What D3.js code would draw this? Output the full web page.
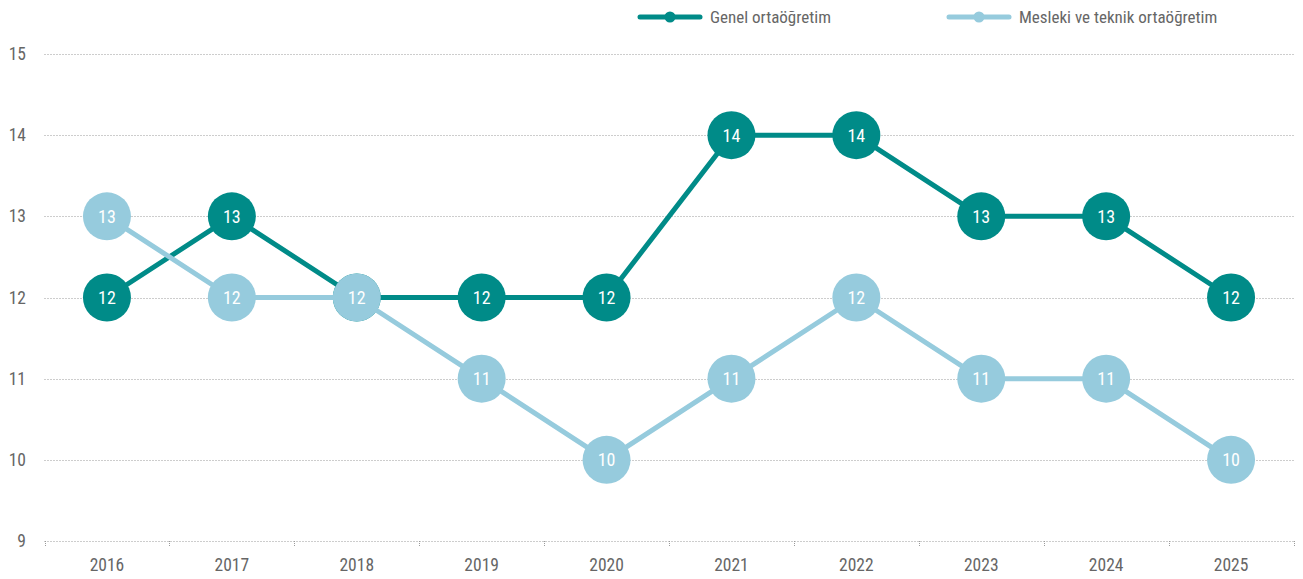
<!DOCTYPE html>
<html>
<head>
<meta charset="utf-8">
<script src="https://cdn.jsdelivr.net/npm/d3@7"></script>
<style>
  html, body { margin: 0; padding: 0; background: #fff; }
  svg { display: block; }
  text { font-family: "Liberation Sans Narrow", "Arial Narrow", "Roboto Condensed", "Liberation Sans", sans-serif; }
</style>
</head>
<body>
<svg id="chart" width="1303" height="579"></svg>
<script>
// Years on the x axis
const years = ["2016", "2017", "2018", "2019", "2020", "2021", "2022", "2023", "2024", "2025"];
// Series values
const genel = [12, 13, 12, 12, 12, 14, 14, 13, 13, 12];
const mesleki = [13, 12, 12, 11, 10, 11, 12, 11, 11, 10];
// Y axis ticks
const yTicks = [9, 10, 11, 12, 13, 14, 15];
// Series names
const seriesNames = ["Genel ortaöğretim", "Mesleki ve teknik ortaöğretim"];
const seriesColors = ["#008b88", "#96cbdd"];

const svg = d3.select("#chart");
const margin = { left: 44.5, right: 9.5, top: 54, bottom: 38 };
const W = 1303, H = 579;

const x = d3.scaleBand().domain(years).range([margin.left, W - margin.right]).padding(0);
const y = d3.scaleLinear().domain([9, 15]).range([H - margin.bottom, margin.top]);

// Dotted horizontal gridlines
svg.append("g").selectAll("line").data(yTicks).join("line")
  .attr("x1", margin.left).attr("x2", W - margin.right)
  .attr("y1", d => Math.round(y(d)) + 0.5).attr("y2", d => Math.round(y(d)) + 0.5)
  .attr("stroke", "#9a9a9a").attr("stroke-width", 1)
  .attr("stroke-dasharray", "1,2");

// Y axis labels
svg.append("g").selectAll("text").data(yTicks).join("text")
  .attr("x", 26).attr("y", d => y(d)).attr("dy", "0.35em")
  .attr("text-anchor", "end").attr("fill", "#666").attr("font-size", 17.5)
  .text(d => d);

// X axis: small dotted ticks at band boundaries
const bounds = years.map(d => x(d)).concat([x(years[years.length - 1]) + x.bandwidth()]);
svg.append("g").selectAll("line").data(bounds).join("line")
  .attr("x1", d => Math.round(d) + 0.5).attr("x2", d => Math.round(d) + 0.5)
  .attr("y1", y(9)).attr("y2", y(9) + 5)
  .attr("stroke", "#9a9a9a").attr("stroke-width", 1)
  .attr("stroke-dasharray", "1,1");

svg.append("g").selectAll("text").data(years).join("text")
  .attr("x", d => x(d) + x.bandwidth() / 2).attr("y", 565)
  .attr("dy", "0.35em")
  .attr("text-anchor", "middle").attr("fill", "#666").attr("font-size", 17.5)
  .text(d => d);

const cx = d => x(d) + x.bandwidth() / 2;
const line = d3.line().x(d => cx(d.year)).y(d => y(d.value));

[genel, mesleki].forEach((vals, i) => {
  const pts = years.map((yr, j) => ({ year: yr, value: vals[j] }));
  const g = svg.append("g");
  g.append("path").datum(pts)
    .attr("d", line).attr("fill", "none")
    .attr("stroke", seriesColors[i]).attr("stroke-width", 5)
    .attr("stroke-linejoin", "round");
  g.selectAll("circle").data(pts).join("circle")
    .attr("cx", d => cx(d.year)).attr("cy", d => y(d.value)).attr("r", 24)
    .attr("fill", seriesColors[i]);
  g.selectAll("text").data(pts).join("text")
    .attr("x", d => cx(d.year)).attr("y", d => y(d.value)).attr("dy", "0.36em")
    .attr("text-anchor", "middle").attr("fill", "#fff").attr("font-size", 18)
    .text(d => d.value);
});

// Legend
const legendX = [640, 949];
seriesNames.forEach((name, i) => {
  const g = svg.append("g").attr("transform", `translate(${legendX[i]},17)`);
  g.append("line").attr("x1", 0).attr("x2", 60).attr("y1", 0).attr("y2", 0)
    .attr("stroke", seriesColors[i]).attr("stroke-width", 5).attr("stroke-linecap", "round");
  g.append("circle").attr("cx", 30).attr("cy", 0).attr("r", 5.5).attr("fill", seriesColors[i]);
  g.append("text").attr("x", 70).attr("y", 0).attr("dy", "0.35em")
    .attr("fill", "#666").attr("font-size", 17).text(name);
});
</script>
</body>
</html>
